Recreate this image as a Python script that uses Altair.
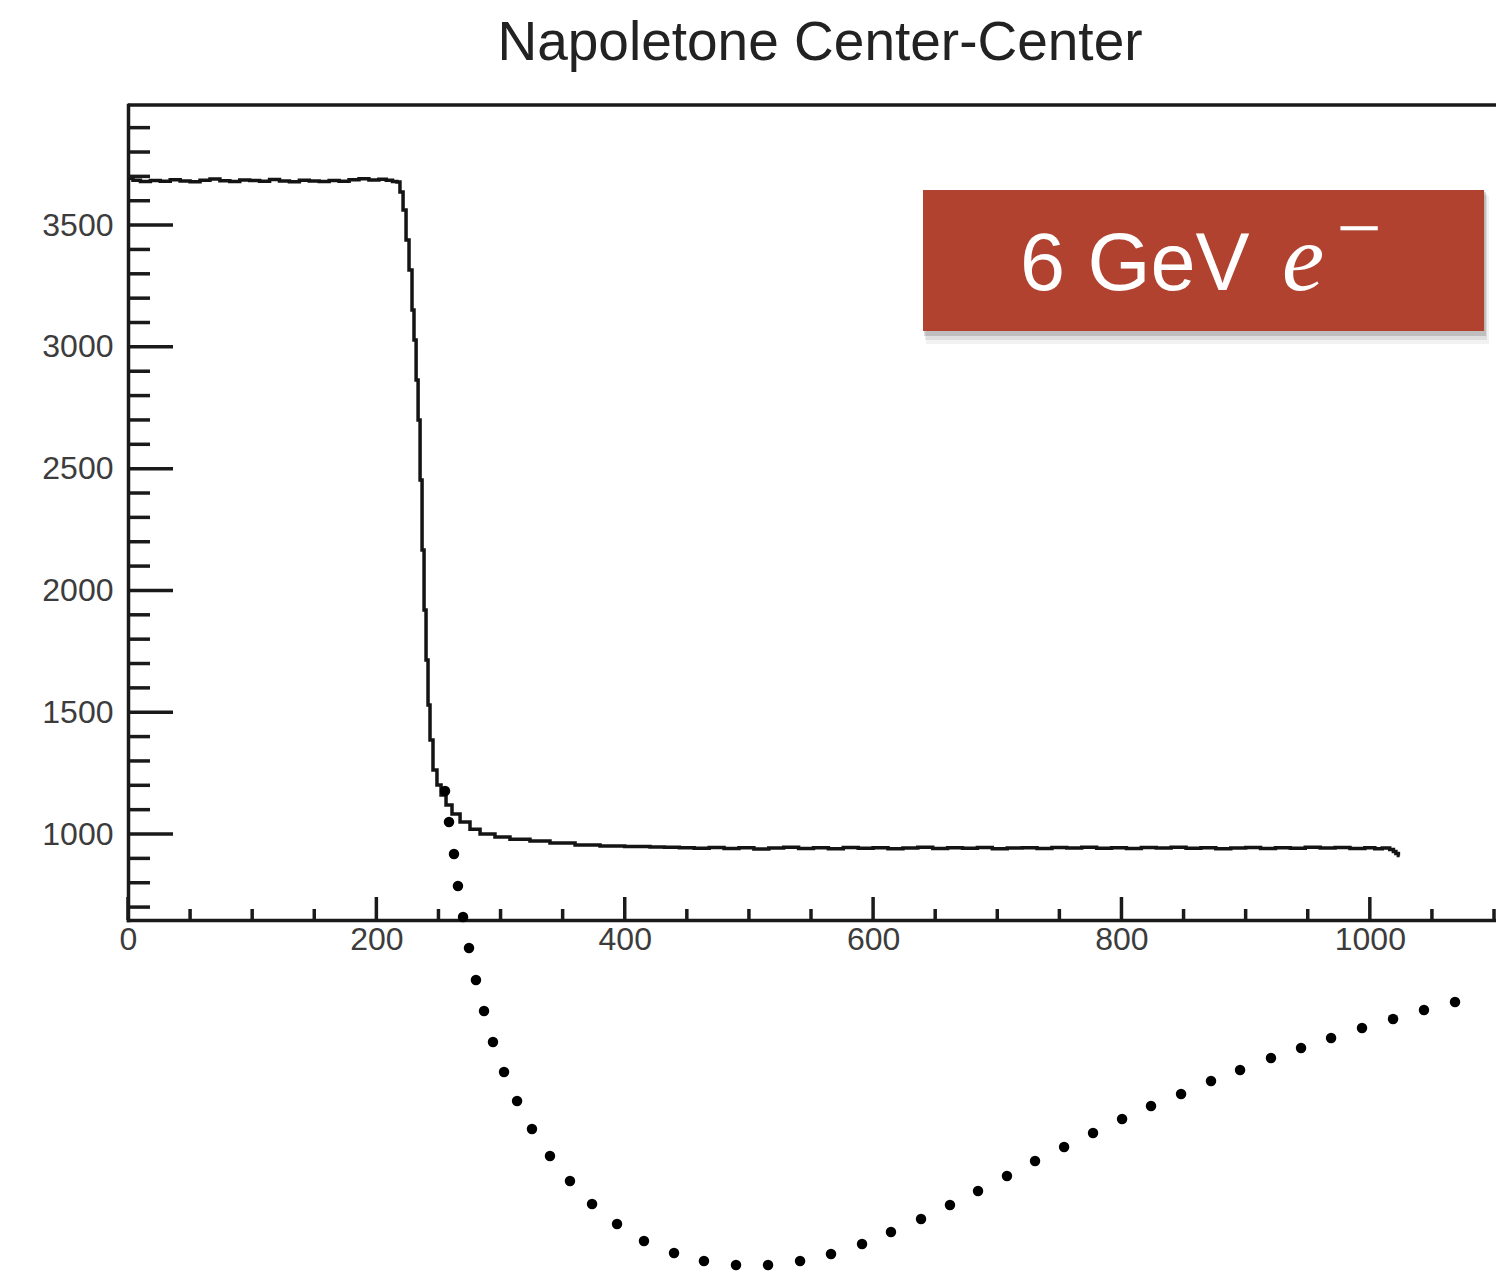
import altair as alt
import pandas as pd

# ---- histogram: channel vs. counts (drawn as a step line) ----
channel = [0, 4, 10, 18, 26, 34, 42, 50, 58, 66, 74, 82, 90, 98, 106, 114,
           122, 130, 138, 146, 154, 162, 170, 178, 186, 194, 202, 208, 213,
           216.6, 219.0, 221.5, 223.9, 226.3, 228.7, 230.3, 232.0, 233.6,
           235.2, 236.8, 238.4, 240.0, 241.6, 243.2, 245.6, 248.8, 252.1,
           256.1, 260.9, 267.4, 275.4, 283.5, 295.5, 307.6, 323.7, 339.8,
           360.0, 380.1, 400.0, 420.4, 432, 444, 456, 468, 480, 492, 504,
           516, 528, 540, 552, 564, 576, 588, 600, 612, 624, 636, 648, 660,
           672, 684, 696, 708, 720, 732, 744, 756, 768, 780, 792, 804, 816,
           828, 840, 852, 864, 876, 888, 900, 912, 924, 936, 948, 960, 972,
           984, 996, 1004, 1010, 1016, 1019, 1021, 1023, 1024]
counts = [3692, 3684, 3679, 3683, 3680, 3686, 3681, 3678, 3684, 3689, 3682,
          3679, 3685, 3683, 3680, 3687, 3681, 3678, 3684, 3681, 3679, 3683,
          3680, 3686, 3690, 3685, 3688, 3684, 3679,
          3677, 3636, 3562, 3439, 3316, 3151, 3028, 2864, 2700, 2453, 2166,
          1920, 1714, 1530, 1386, 1263, 1201, 1160, 1119, 1082, 1049, 1020,
          1000, 988, 979, 971, 963, 955, 951, 949, 947, 946, 944, 942, 945,
          941, 944, 939, 943, 946, 941, 944, 940, 945, 942, 944, 940, 943,
          946, 941, 944, 942, 945, 940, 943, 944, 941, 945, 943, 946, 942,
          944, 941, 945, 943, 946, 942, 944, 940, 943, 945, 941, 944, 942,
          946, 943, 945, 941, 944, 940, 943, 936, 928, 920, 912, 912]

# ---- axis tick positions ----
x_major = [0, 200, 400, 600, 800, 1000]
x_minor = [50, 100, 150, 250, 300, 350, 450, 500, 550, 650, 700, 750, 850,
           900, 950, 1050, 1100]
y_major = [1000, 1500, 2000, 2500, 3000, 3500]
y_minor = [700, 800, 900, 1100, 1200, 1300, 1400, 1600, 1700, 1800, 1900,
           2100, 2200, 2300, 2400, 2600, 2700, 2800, 2900, 3100, 3200, 3300,
           3400, 3600, 3700, 3800, 3900]

# ---- dotted guide curve (in channel / counts units) ----
guide_x = [255.3, 258.5, 262.5, 265.7, 269.8, 274.6, 280.2, 286.7, 293.9,
           302.8, 313.3, 325.3, 339.8, 355.9, 373.7, 393.8, 415.5, 439.7,
           463.8, 489.6, 515.4, 541.2, 566.1, 591.1, 614.4, 638.6, 661.9,
           684.5, 707.8, 730.4, 753.8, 777.1, 800.5, 823.8, 848.0, 872.1,
           895.5, 920.4, 944.6, 968.8, 993.7, 1018.7, 1043.6, 1068.6]
guide_y = [1176.5, 1049.3, 917.9, 786.5, 659.2, 532.0, 400.6, 273.3, 146.0,
           22.9, -96.2, -211.1, -322.0, -424.6, -519.1, -601.2, -671.0,
           -720.2, -753.1, -769.5, -769.5, -753.1, -724.3, -683.3, -634.0,
           -580.6, -523.1, -465.7, -404.1, -342.5, -285.0, -227.5, -170.1,
           -116.7, -67.4, -14.1, 31.1, 80.4, 121.4, 162.5, 203.6, 240.5,
           277.4, 310.3]

# ---- beam label box ----
box_x = [640.2, 1092.0]
box_y = [3065.0, 3644.0]
label_parts = ["6 GeV", "e", "\u2212"]
label_x = [718.3, 929.3, 973.1]
label_y = [3233.5, 3233.5, 3377.0]

TITLE = "Napoletone Center-Center"
W, H = 1368, 815
X_DOM = [0, 1101.6]
Y_DOM = [647, 3993]
INK = "#1a1a1a"
LABEL_FONT = "Liberation Sans"
LW = 3.5

xs = alt.Scale(domain=X_DOM, nice=False, zero=False)
ys = alt.Scale(domain=Y_DOM, nice=False, zero=False)

x_axis = alt.Axis(
    values=x_major, format="d", title=None, ticks=False, tickSize=0,
    grid=False, domainWidth=LW, domainColor=INK, domainCap="square",
    labelFont=LABEL_FONT, labelFontSize=32, labelColor="#3c3c3c",
    labelPadding=4, labelFlush=False, labelOverlap=False)
y_axis = alt.Axis(
    values=y_major, format="d", title=None, ticks=False, tickSize=0,
    grid=False, domainWidth=LW, domainColor=INK, domainCap="square",
    labelFont=LABEL_FONT, labelFontSize=32, labelColor="#3c3c3c",
    labelPadding=15, labelFlush=False, labelOverlap=False)


def X(field):
    return alt.X(field, type="quantitative", scale=xs, axis=x_axis)


def Y(field):
    return alt.Y(field, type="quantitative", scale=ys, axis=y_axis)


hist = pd.DataFrame({"channel": channel, "counts": counts})

curve = alt.Chart(hist).mark_line(
    interpolate="step-after", color="#141414", strokeWidth=LW
).encode(x=X("channel"), y=Y("counts"))


# inward-pointing ticks, ROOT style
def yticks(vals, length):
    return alt.Chart(pd.DataFrame({"v": vals})).mark_rule(
        color=INK, strokeWidth=LW
    ).encode(y=Y("v"), x=alt.value(0), x2=alt.value(length))


def xticks(vals, length):
    return alt.Chart(pd.DataFrame({"v": vals})).mark_rule(
        color=INK, strokeWidth=LW
    ).encode(x=X("v"), y=alt.value(H), y2=alt.value(H - length))


top_edge = alt.Chart(pd.DataFrame({"a": [0]})).mark_rule(
    color=INK, strokeWidth=LW
).encode(y=alt.value(0), x=alt.value(0), x2=alt.value(W))

guide = alt.Chart(pd.DataFrame({"gx": guide_x, "gy": guide_y})).mark_circle(
    size=110, color="black", opacity=1
).encode(x=X("gx"), y=Y("gy"))

box_df = pd.DataFrame({"x1": [box_x[0]], "x2": [box_x[1]],
                       "y1": [box_y[1]], "y2": [box_y[0]]})


def box_layer(**mark):
    return alt.Chart(box_df).mark_rect(**mark).encode(
        x=X("x1"), x2="x2:Q", y=Y("y1"), y2="y2:Q")


shadows = [
    box_layer(color="#000000", opacity=0.05, xOffset=3, x2Offset=5,
              yOffset=6, y2Offset=13),
    box_layer(color="#000000", opacity=0.08, xOffset=2, x2Offset=3,
              yOffset=4, y2Offset=9),
    box_layer(color="#000000", opacity=0.14, xOffset=1, x2Offset=2,
              yOffset=2, y2Offset=5),
]
box = box_layer(color="#b0422f")

lab = pd.DataFrame({"t": label_parts, "lx": label_x, "ly": label_y})


def label_text(i, **mark):
    return alt.Chart(lab.iloc[[i]]).mark_text(
        align="left", baseline="alphabetic", color="white", **mark
    ).encode(x=X("lx"), y=Y("ly"), text="t:N")


labels = [
    label_text(0, font="Liberation Sans", fontSize=81),
    label_text(1, font="Liberation Serif", fontSize=95, fontStyle="italic"),
    label_text(2, font="Liberation Serif", fontSize=80),
]

chart = alt.layer(
    curve,
    yticks(y_major, 45), yticks(y_minor, 22),
    xticks(x_major, 23), xticks(x_minor, 11),
    top_edge, guide, *shadows, box, *labels,
).properties(
    width=W, height=H,
    title=alt.TitleParams(TITLE, font=LABEL_FONT, fontSize=55,
                          fontWeight="normal", color="#222222",
                          anchor="middle", baseline="alphabetic",
                          offset=42, dx=8, dy=54),
    autosize=alt.AutoSizeParams(type="none"),
    padding={"left": 128, "top": 105, "right": 0, "bottom": 353},
    background="white",
).configure_view(stroke=None)

chart.save("out.html", embed_options={"renderer": "svg", "actions": False})
